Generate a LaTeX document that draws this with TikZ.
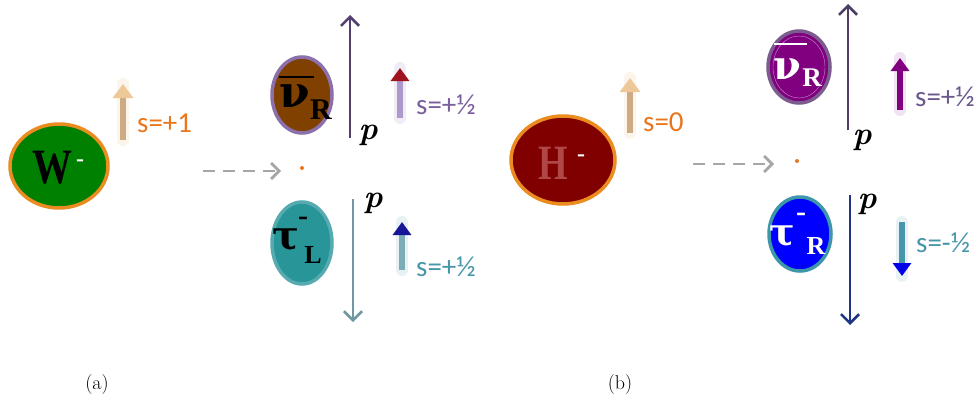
\documentclass[tikz,border=0pt]{standalone}
\usepackage{fontspec}
\newfontfamily\spinfont{Carlito}
\newfontfamily\greekbf{DejaVu Serif}
\newfontfamily\romanbf{Liberation Serif}
\usetikzlibrary{arrows.meta,shapes.geometric}

\definecolor{ringorange}{RGB}{234,140,32}
\definecolor{sorange}{RGB}{232,118,30}
\definecolor{tanshaft}{RGB}{205,172,132}
\definecolor{tanhead}{RGB}{238,200,152}
\definecolor{wgreen}{RGB}{0,128,0}
\definecolor{hred}{RGB}{128,0,0}
\definecolor{hletter}{RGB}{176,70,70}
\definecolor{nubrown}{RGB}{128,64,0}
\definecolor{nuring}{RGB}{140,112,172}
\definecolor{pupa}{RGB}{82,62,112}
\definecolor{lavshaft}{RGB}{172,152,202}
\definecolor{spinred}{RGB}{160,20,32}
\definecolor{sviolet}{RGB}{122,94,158}
\definecolor{taufill}{RGB}{40,150,152}
\definecolor{tauring}{RGB}{86,170,176}
\definecolor{pdowna}{RGB}{112,152,162}
\definecolor{tealshaft}{RGB}{124,172,182}
\definecolor{spinblue}{RGB}{22,22,150}
\definecolor{steal}{RGB}{72,150,170}
\definecolor{nupurple}{RGB}{128,0,128}
\definecolor{nuringb}{RGB}{122,92,142}
\definecolor{pupb}{RGB}{76,60,102}
\definecolor{sgrape}{RGB}{108,88,140}
\definecolor{taublue}{RGB}{0,0,255}
\definecolor{tauringb}{RGB}{62,150,170}
\definecolor{pdownb}{RGB}{30,52,132}
\definecolor{spinbluec}{RGB}{0,0,230}

\begin{document}
\begin{tikzpicture}[x=1pt,y=-1pt,
  particle/.style={ellipse,line width=3.5pt,inner sep=0pt},
  glyph/.style={inner sep=0pt,font=\greekbf\bfseries},
  subglyph/.style={inner sep=0pt,font=\romanbf\bfseries},
  momentum/.style={-{Straight Barb[length=9pt,width=18pt]},line width=2.6pt},
  spinarrow/.style={line width=6pt},
  glow/.style={line width=12pt,opacity=0.18,line cap=round},
  spinlabel/.style={font=\spinfont\fontsize{29}{30}\selectfont,anchor=west,inner sep=0pt},
  plabel/.style={font=\fontsize{32}{34}\selectfont\bfseries\itshape,inner sep=0pt},
  decay/.style={gray!70,line width=2.8pt,dash pattern=on 12pt off 8pt,
    -{Straight Barb[length=8pt,width=16pt]}}]

\useasboundingbox (0,0) rectangle (980,407);

% ---- panel (a): W- decay
\node[particle,fill=wgreen,draw=ringorange,minimum width=98,minimum height=84] (W) at (59,166) {};
\node[subglyph] (Wtxt) at (52,168) {\fontsize{38}{40}\selectfont\scalebox{1.05}[1.3]{W}};
\node[subglyph,text=white] (Wminus) at (80,163) {\fontsize{24}{24}\selectfont -};

\coordinate (tanAb) at (123,140);
\coordinate (tanAt) at (123,84);
\draw[glow,tanhead] (tanAb) -- (tanAt);
\draw[spinarrow,tanshaft,-{Triangle[length=14pt,width=20pt,color=tanhead]}] (tanAb) -- (tanAt);
\node[spinlabel,text=sorange] (sW) at (137,123) {s=+1};

\coordinate (decA0) at (203,171);
\coordinate (decA1) at (281,171);
\draw[decay] (decA0) -- (decA1);
\fill[sorange] (302,168) circle (2pt) coordinate (vtxA);

% antineutrino, right handed
\node[particle,fill=nubrown,draw=nuring,minimum width=60,minimum height=76] (nuA) at (302,95) {};
\node[glyph] (nuAgl) at (295,96) {\fontsize{44}{44}\selectfont ν};
\node[subglyph] (nuAsub) at (321,110) {\fontsize{30}{30}\selectfont R};
\draw[line width=2.6pt] (279,77) -- (314,77);

\coordinate (pA1b) at (350,138);
\coordinate (pA1t) at (350,15);
\draw[momentum,pupa] (pA1b) -- (pA1t);
\node[plabel] (pA1) at (368,135) {p};

\coordinate (sA1b) at (400,118);
\coordinate (sA1t) at (400,68);
\draw[glow,lavshaft] (sA1b) -- (sA1t);
\draw[spinarrow,lavshaft,-{Triangle[length=13pt,width=18pt,color=spinred]}] (sA1b) -- (sA1t);
\node[spinlabel,text=sviolet] (sA1txt) at (416,105) {s=+½};

% tau, left handed
\node[particle,fill=taufill,draw=tauring,minimum width=60,minimum height=82] (tauA) at (302,243) {};
\node[glyph] (tauAgl) at (286,240) {\fontsize{40}{40}\selectfont τ};
\node[subglyph] (tauAsup) at (303,221) {\fontsize{30}{30}\selectfont -};
\node[subglyph] (tauAsub) at (313,255) {\fontsize{26}{26}\selectfont L};

\coordinate (pA2t) at (353,199);
\coordinate (pA2b) at (353,322);
\draw[momentum,pdowna] (pA2t) -- (pA2b);
\node[plabel] (pA2) at (373,203) {p};

\coordinate (sA2b) at (402,270);
\coordinate (sA2t) at (402,222);
\draw[glow,tealshaft] (sA2b) -- (sA2t);
\draw[spinarrow,tealshaft,-{Triangle[length=13pt,width=18pt,color=spinblue]}] (sA2b) -- (sA2t);
\node[spinlabel,text=steal] (sA2txt) at (416,267) {s=+½};

% ---- panel (b): H- decay
\node[particle,fill=hred,draw=ringorange,minimum width=104,minimum height=88] (H) at (563,160) {};
\node[subglyph,text=hletter] (Htxt) at (553,163) {\fontsize{38}{40}\selectfont\scalebox{1}[1.3]{H}};
\node[subglyph,text=white] (Hminus) at (581,158) {\fontsize{24}{24}\selectfont -};

\coordinate (tanBb) at (630,133);
\coordinate (tanBt) at (630,78);
\draw[glow,tanhead] (tanBb) -- (tanBt);
\draw[spinarrow,tanshaft,-{Triangle[length=14pt,width=20pt,color=tanhead]}] (tanBb) -- (tanBt);
\node[spinlabel,text=sorange] (sH) at (643,122) {s=0};

\coordinate (decB0) at (693,164);
\coordinate (decB1) at (774,164);
\draw[decay] (decB0) -- (decB1);
\fill[sorange] (797,161) circle (2pt) coordinate (vtxB);

% antineutrino, right handed
\node[particle,fill=nupurple,draw=nuringb,minimum width=62,minimum height=72] (nuB) at (799,67) {};
\draw[white!55!nupurple,thin] (nuB.center) ellipse (26pt and 31pt);
\node[glyph,text=white] (nuBgl) at (787,69) {\fontsize{40}{40}\selectfont ν};
\node[subglyph,text=white] (nuBsub) at (812,78) {\fontsize{27}{27}\selectfont R};
\draw[white,line width=2.4pt] (774,44) -- (807,44);

\coordinate (pB1b) at (848,130);
\coordinate (pB1t) at (848,4);
\draw[momentum,pupb] (pB1b) -- (pB1t);
\node[plabel] (pB1) at (862,140) {p};

\coordinate (sB1b) at (900,110);
\coordinate (sB1t) at (900,58);
\draw[glow,nupurple!60] (sB1b) -- (sB1t);
\draw[spinarrow,nupurple,-{Triangle[length=13pt,width=18pt,color=nupurple]}] (sB1b) -- (sB1t);
\node[spinlabel,text=sgrape] (sB1txt) at (915,97) {s=+½};

% tau, right handed
\node[particle,fill=taublue,draw=tauringb,minimum width=62,minimum height=74] (tauB) at (800,234) {};
\node[glyph,text=white] (tauBgl) at (782,236) {\fontsize{38}{38}\selectfont τ};
\node[subglyph,text=white] (tauBsup) at (801,217) {\fontsize{30}{30}\selectfont -};
\node[subglyph,text=white] (tauBsub) at (816,246) {\fontsize{26}{26}\selectfont R};

\coordinate (pB2t) at (850,195);
\coordinate (pB2b) at (850,325);
\draw[momentum,pdownb] (pB2t) -- (pB2b);
\node[plabel] (pB2) at (867,204) {p};

\coordinate (sB2t) at (902,222);
\coordinate (sB2b) at (902,276);
\draw[glow,steal!70] (sB2t) -- (sB2b);
\draw[spinarrow,steal,-{Triangle[length=13pt,width=18pt,color=spinbluec]}] (sB2t) -- (sB2b);
\node[spinlabel,text=steal] (sB2txt) at (916,243) {s=-½};

% captions
\node[font=\fontsize{20}{24}\selectfont] (capA) at (97,385) {(a)};
\node[font=\fontsize{20}{24}\selectfont] (capB) at (620,385) {(b)};

\end{tikzpicture}
\end{document}
